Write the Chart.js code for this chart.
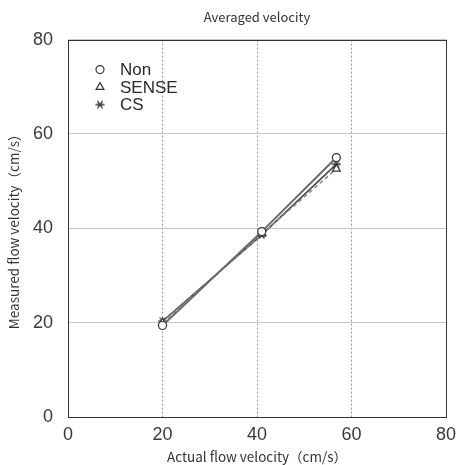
<!DOCTYPE html>
<html>
<head>
<meta charset="utf-8">
<script src="https://cdn.jsdelivr.net/npm/chart.js@4.4.0/dist/chart.umd.min.js"></script>
<style>
html, body { margin: 0; padding: 0; background: #fff; }
#wrap { width: 458px; height: 465px; }
</style>
</head>
<body>
<div id="wrap"><canvas id="chart" width="458" height="465"></canvas></div>
<script>
// データ
const seriesNames = ['Non', 'SENSE', 'CS'];
const actualVelocity = [20.0, 41.0, 56.8];
const nonValues = [19.4, 39.3, 55.0];
const senseValues = [20.0, 38.8, 52.6];
const csValues = [20.3, 38.6, 53.6];
const xTicks = [0, 20, 40, 60, 80];
const yTicks = [0, 20, 40, 60, 80];

const FONT_JP = "'Noto Sans CJK JP', 'Noto Sans', sans-serif";
const FONT_NUM = "'Liberation Sans', Arial, sans-serif";

// アスタリスク型マーカー（横線＋×）
function makeAsterisk(size, color) {
    const c = document.createElement('canvas');
    c.width = size;
    c.height = size;
    const g = c.getContext('2d');
    g.strokeStyle = color;
    g.lineWidth = 1.3;
    const m = size / 2, r = size / 2 - 0.5;
    g.beginPath();
    g.moveTo(m - r, m);
    g.lineTo(m + r, m);
    [55, 125].forEach(deg => {
        const a = deg * Math.PI / 180;
        g.moveTo(m - r * Math.cos(a), m - r * Math.sin(a));
        g.lineTo(m + r * Math.cos(a), m + r * Math.sin(a));
    });
    g.stroke();
    return c;
}
const asterisk = makeAsterisk(10, '#333');

function toPoints(values) {
    return values.map((v, i) => ({ x: actualVelocity[i], y: v }));
}

// 外枠
const frameBox = {
    id: 'frameBox',
    beforeDatasetsDraw(chart) {
        const { ctx, chartArea: a } = chart;
        ctx.save();
        ctx.strokeStyle = '#333';
        ctx.lineWidth = 1;
        ctx.strokeRect(Math.round(a.left) + 0.5, Math.round(a.top) + 0.5,
            Math.round(a.right - a.left), Math.round(a.bottom - a.top));
        ctx.restore();
    }
};

// プロット内の凡例
const insideLegend = {
    id: 'insideLegend',
    afterDatasetsDraw(chart) {
        const { ctx, chartArea: a } = chart;
        const markerX = a.left + 32;
        const textX = a.left + 52;
        ctx.save();
        chart.data.datasets.forEach((ds, i) => {
            const y = a.top + 30 + i * 17.5;
            ctx.fillStyle = '#fff';
            ctx.strokeStyle = '#333';
            ctx.lineWidth = 1.2;
            Chart.helpers.drawPoint(ctx, {
                pointStyle: ds.pointStyle,
                radius: ds.pointRadius,
                borderWidth: 1.2,
                rotation: 0
            }, markerX, y);
            ctx.fillStyle = '#2a2a2a';
            ctx.font = '17px ' + FONT_NUM;
            ctx.textBaseline = 'middle';
            ctx.textAlign = 'left';
            ctx.fillText(ds.label, textX, y + 1);
        });
        ctx.restore();
    }
};

const ctx = document.getElementById('chart').getContext('2d');
new Chart(ctx, {
    type: 'line',
    data: {
        datasets: [{
            label: seriesNames[0],
            data: toPoints(nonValues),
            borderColor: '#6a6a6a',
            borderWidth: 2,
            pointStyle: 'circle',
            pointRadius: 4,
            pointBackgroundColor: '#fff',
            pointBorderColor: '#333',
            pointBorderWidth: 1.2
        }, {
            label: seriesNames[1],
            data: toPoints(senseValues),
            borderColor: '#8a8a8a',
            borderWidth: 1.6,
            borderDash: [4, 3],
            pointStyle: 'triangle',
            pointRadius: 4.5,
            pointBackgroundColor: '#fff',
            pointBorderColor: '#333',
            pointBorderWidth: 1.2
        }, {
            label: seriesNames[2],
            data: toPoints(csValues),
            borderColor: '#4a4a4a',
            borderWidth: 1.6,
            pointStyle: asterisk,
            pointRadius: 5,
            pointBackgroundColor: '#fff',
            pointBorderColor: '#333'
        }]
    },
    options: {
        responsive: false,
        animation: false,
        layout: { padding: { left: 0, right: 12, top: 0, bottom: 0 } },
        scales: {
            x: {
                type: 'linear',
                min: xTicks[0],
                max: xTicks[xTicks.length - 1],
                afterBuildTicks: s => { s.ticks = xTicks.map(v => ({ value: v })); },
                afterFit: s => { s.height = 48; s.paddingLeft = 0; s.paddingRight = 0; },
                grid: { color: '#999', drawTicks: false },
                border: { display: false, dash: [2, 2] },
                ticks: { color: '#3a3a3a', padding: 7, font: { family: FONT_NUM, size: 18 } },
                title: {
                    display: true,
                    text: 'Actual flow velocity（cm/s）',
                    color: '#333',
                    font: { family: FONT_JP, size: 13.5 },
                    padding: { top: 0, bottom: 0 }
                }
            },
            y: {
                type: 'linear',
                min: yTicks[0],
                max: yTicks[yTicks.length - 1],
                afterBuildTicks: s => { s.ticks = yTicks.map(v => ({ value: v })); },
                afterFit: s => { s.width = 68; },
                grid: { color: '#c8c8c8', drawTicks: false },
                border: { display: false },
                ticks: { color: '#3a3a3a', padding: 15, font: { family: FONT_NUM, size: 18 } },
                title: {
                    display: true,
                    text: 'Measured flow velocity（cm/s）',
                    color: '#333',
                    font: { family: FONT_JP, size: 13.5 },
                    padding: { top: 6, bottom: 0 }
                }
            }
        },
        plugins: {
            legend: { display: false },
            tooltip: { enabled: false },
            title: {
                display: true,
                fullSize: false,
                text: 'Averaged velocity',
                color: '#333',
                font: { family: FONT_JP, size: 13, weight: 'normal' },
                padding: { top: 9, bottom: 15 }
            }
        }
    },
    plugins: [frameBox, insideLegend]
});
</script>
</body>
</html>
